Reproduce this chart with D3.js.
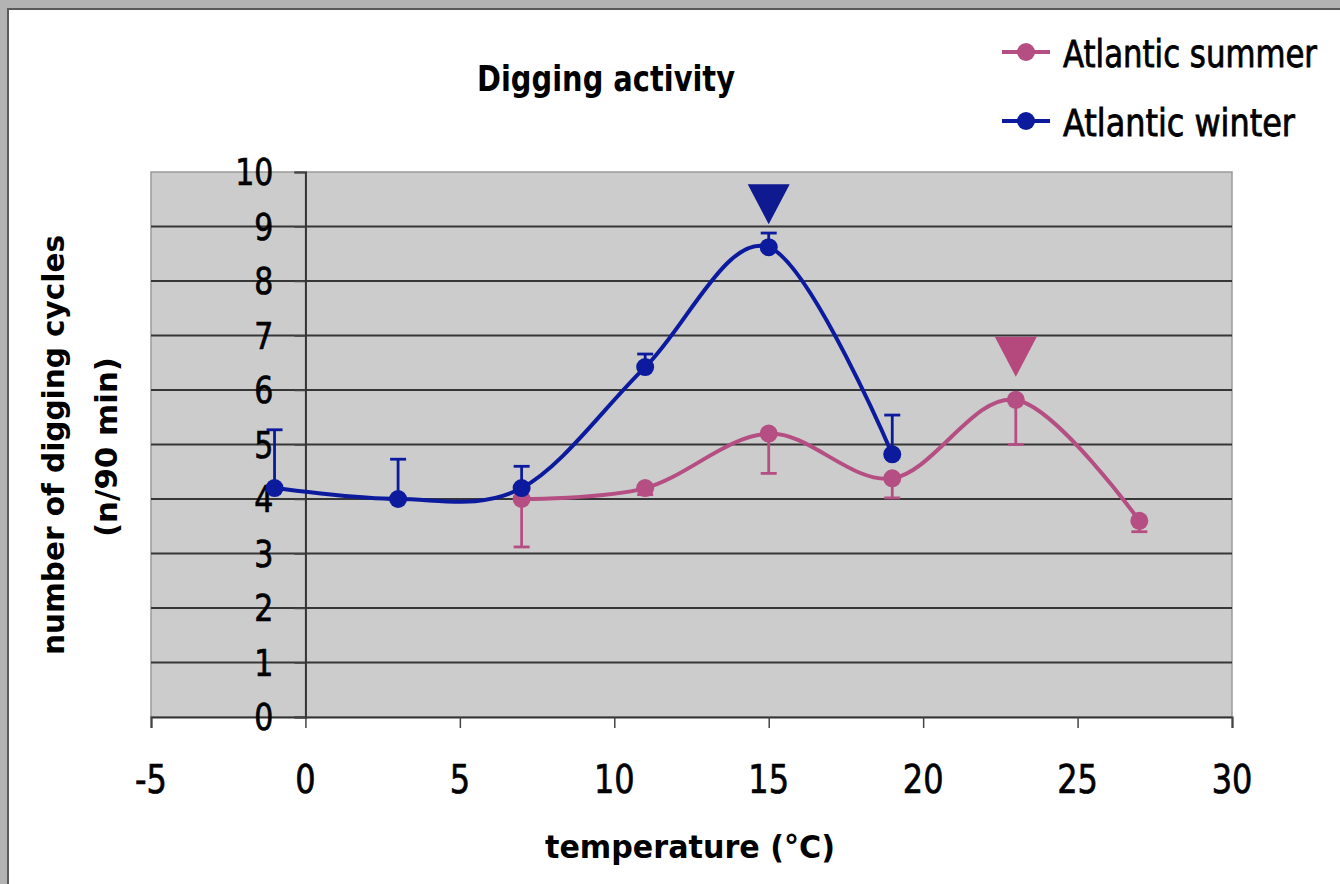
<!DOCTYPE html>
<html>
<head>
<meta charset="utf-8">
<script src="https://cdn.jsdelivr.net/npm/d3@7/dist/d3.min.js"></script>
<style>
  html, body { margin: 0; padding: 0; background: #b3b3b3; }
  svg { display: block; }
  text { font-family: "DejaVu Sans", "Noto Sans", sans-serif; fill: #000; }
</style>
</head>
<body>
<svg id="chart" width="1340" height="884"></svg>
<script>
// ---- data ----
const xTicks = [-5, 0, 5, 10, 15, 20, 25, 30];
const yTicks = [0, 1, 2, 3, 4, 5, 6, 7, 8, 9, 10];

const summerTemp  = [7, 11, 15, 19, 23, 27];
const summerValue = [4.0, 4.2, 5.2, 4.38, 5.82, 3.6];
const summerErrLow = [3.12, 4.08, 4.47, 4.02, 5.0, 3.4];   // error bars point down

const winterTemp  = [-1, 3, 7, 11, 15, 19];
const winterValue = [4.2, 4.0, 4.2, 6.42, 8.62, 4.82];
const winterErrHigh = [5.27, 4.73, 4.6, 6.66, 8.88, 5.54]; // error bars point up

const seriesNames = ["Atlantic summer", "Atlantic winter"];
const peakTemp = [23, 15]; // temperature of the marked optimum per series

const titleText = "Digging activity";
const xLabel = "temperature (°C)";
const yLabel1 = "number of digging cycles";
const yLabel2 = "(n/90 min)";

// ---- styles ----
const colSummer = "#b54e82";
const colWinter = "#0c1a9e";

const svg = d3.select("#chart");

// panel
svg.append("rect").attr("x", 8).attr("y", 9).attr("width", 1340).attr("height", 884).attr("fill", "#fff");
svg.append("path").attr("d", "M8,884 L8,9 L1340,9").attr("fill", "none").attr("stroke", "#5a5a5a").attr("stroke-width", 2);

const x = d3.scaleLinear().domain([-5, 30]).range([151, 1232]);
const y = d3.scaleLinear().domain([0, 10]).range([717, 172]);

// plot background
svg.append("rect")
  .attr("x", x(-5)).attr("y", y(10))
  .attr("width", x(30) - x(-5)).attr("height", y(0) - y(10))
  .attr("fill", "#cccccc").attr("stroke", "#9a9a9a").attr("stroke-width", 1.5);

// gridlines
svg.append("g").selectAll("line").data(yTicks.filter(d => d > 0 && d < 10)).join("line")
  .attr("x1", x(-5)).attr("x2", x(30))
  .attr("y1", d => y(d)).attr("y2", d => y(d))
  .attr("stroke", "#363636").attr("stroke-width", 2.2);

// x axis
const xAxis = svg.append("g").attr("transform", `translate(0,${y(0)})`)
  .call(d3.axisBottom(x).tickValues(xTicks).tickSize(11).tickFormat(""));
xAxis.select(".domain").attr("stroke", "#333").attr("stroke-width", 2);
xAxis.selectAll(".tick line").attr("stroke", "#444").attr("stroke-width", 1.5);

// x tick labels (slightly tall glyphs)
svg.append("g").selectAll("g").data(xTicks).join("g")
  .attr("transform", d => `translate(${x(d)},793) scale(1,1.2)`)
  .append("text").attr("text-anchor", "middle").attr("font-size", 32)
  .attr("stroke", "#000").attr("stroke-width", 0.6)
  .text(d => d);

// y axis at x = 0
const yAxis = svg.append("g").attr("transform", `translate(${x(0)},0)`)
  .call(d3.axisLeft(y).tickValues(yTicks).tickSize(11).tickFormat(""));
yAxis.select(".domain").attr("stroke", "#333").attr("stroke-width", 2);
yAxis.selectAll(".tick line").attr("stroke", "#444").attr("stroke-width", 1.5);

svg.append("g").selectAll("g").data(yTicks).join("g")
  .attr("transform", d => `translate(${x(0) - 32},${y(d) + 13}) scale(1,1.22)`)
  .append("text").attr("text-anchor", "end").attr("font-size", 30)
  .attr("stroke", "#000").attr("stroke-width", 0.6)
  .text(d => d);

// series
const line = d3.line().curve(d3.curveCatmullRom.alpha(0)).x(d => x(d[0])).y(d => y(d[1]));

function drawSeries(temps, vals, errs, color) {
  const g = svg.append("g");
  const pts = temps.map((t, i) => [t, vals[i], errs[i]]);
  g.append("path").datum(pts).attr("d", line)
    .attr("fill", "none").attr("stroke", color).attr("stroke-width", 4);
  const eb = g.append("g").selectAll("g").data(pts).join("g");
  eb.append("line")
    .attr("x1", d => x(d[0])).attr("x2", d => x(d[0]))
    .attr("y1", d => y(d[1])).attr("y2", d => y(d[2]))
    .attr("stroke", color).attr("stroke-width", 2.8);
  eb.append("line")
    .attr("x1", d => x(d[0]) - 8).attr("x2", d => x(d[0]) + 8)
    .attr("y1", d => y(d[2])).attr("y2", d => y(d[2]))
    .attr("stroke", color).attr("stroke-width", 2.8);
  g.append("g").selectAll("circle").data(pts).join("circle")
    .attr("cx", d => x(d[0])).attr("cy", d => y(d[1])).attr("r", 9)
    .attr("fill", color);
}
drawSeries(summerTemp, summerValue, summerErrLow, colSummer);
drawSeries(winterTemp, winterValue, winterErrHigh, colWinter);

// peak arrows
function drawPeak(temp, temps, vals, color) {
  const v = vals[temps.indexOf(temp)];
  const cx = x(temp), tip = y(v) - 23;
  svg.append("path")
    .attr("d", `M${cx - 21},${tip - 40} L${cx + 21},${tip - 40} L${cx},${tip} Z`)
    .attr("fill", color);
}
drawPeak(peakTemp[0], summerTemp, summerValue, "#b5487c");
drawPeak(peakTemp[1], winterTemp, winterValue, "#0f1990");

// title
svg.append("g").attr("transform", "translate(606,91) scale(1,1.2)")
  .append("text").attr("text-anchor", "middle").attr("font-size", 30).attr("font-weight", "bold")
  .attr("textLength", 258).attr("lengthAdjust", "spacingAndGlyphs")
  .text(titleText);

// x label
svg.append("g").attr("transform", "translate(690,858) scale(1,1.15)")
  .append("text").attr("text-anchor", "middle").attr("font-size", 28).attr("font-weight", "bold")
  .attr("textLength", 290).attr("lengthAdjust", "spacingAndGlyphs")
  .text(xLabel);

// y label
svg.append("text").attr("transform", "translate(64,445) rotate(-90)")
  .attr("text-anchor", "middle").attr("font-size", 31).attr("font-weight", "bold")
  .attr("textLength", 420).attr("lengthAdjust", "spacingAndGlyphs")
  .text(yLabel1);
svg.append("text").attr("transform", "translate(117,447) rotate(-90)")
  .attr("text-anchor", "middle").attr("font-size", 31).attr("font-weight", "bold")
  .attr("textLength", 180).attr("lengthAdjust", "spacingAndGlyphs")
  .text(yLabel2);

// legend
const legendY = [52, 121];
const legendColors = [colSummer, colWinter];
const lg = svg.append("g").selectAll("g").data(seriesNames).join("g")
  .attr("transform", (d, i) => `translate(0,${legendY[i]})`);
lg.append("line").attr("x1", 1002).attr("x2", 1050).attr("y1", 0).attr("y2", 0)
  .attr("stroke", (d, i) => legendColors[i]).attr("stroke-width", 4);
lg.append("circle").attr("cx", 1026).attr("cy", 0).attr("r", 9)
  .attr("fill", (d, i) => legendColors[i]);
lg.append("g").attr("transform", "translate(1063,15) scale(1,1.2)")
  .append("text").attr("font-size", 31)
  .attr("textLength", (d, i) => i === 0 ? 254 : 232).attr("lengthAdjust", "spacingAndGlyphs")
  .attr("stroke", "#000").attr("stroke-width", 0.7)
  .text(d => d);
</script>
</body>
</html>
